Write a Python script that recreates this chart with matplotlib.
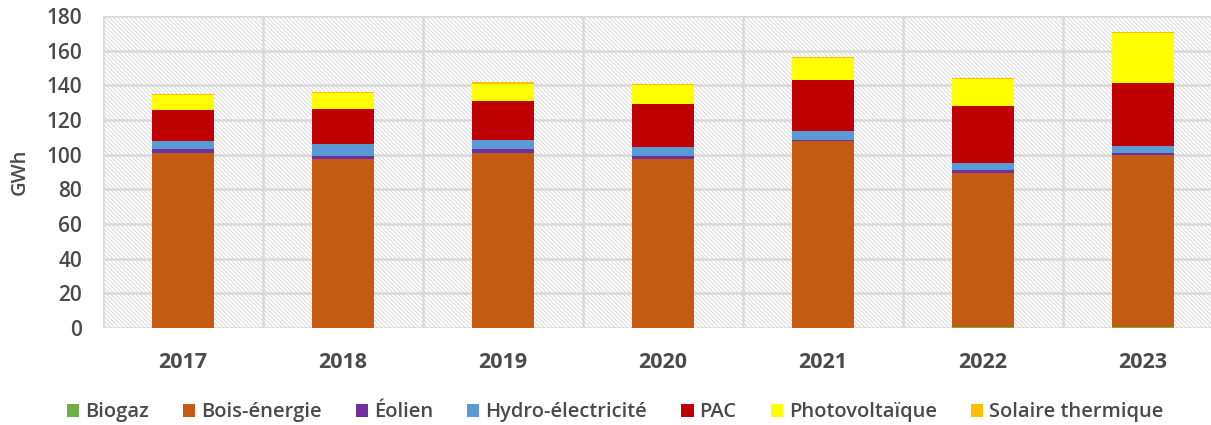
import matplotlib
matplotlib.use("Agg")
import matplotlib.pyplot as plt
import numpy as np
from matplotlib.patches import Rectangle, Patch

years = ["2017", "2018", "2019", "2020", "2021", "2022", "2023"]
series_names = ["Biogaz", "Bois-énergie", "Éolien", "Hydro-électricité", "PAC", "Photovoltaïque", "Solaire thermique"]
biogaz = [0.0, 0.0, 0.0, 0.0, 0.0, 0.6, 0.6]
bois = [101.0, 97.6, 101.2, 97.4, 107.8, 88.7, 99.1]
eolien = [2.2, 1.9, 2.0, 1.9, 0.9, 2.0, 1.3]
hydro = [4.8, 6.8, 5.5, 5.0, 5.2, 3.8, 4.1]
pac = [18.0, 20.3, 22.3, 25.2, 29.0, 32.9, 36.5]
pv = [8.7, 8.7, 9.6, 10.5, 12.9, 15.9, 28.4]
solaire = [0.5, 0.9, 1.2, 0.8, 0.6, 0.5, 0.6]
colors = ["#70ad47", "#c55a11", "#7030a0", "#5b9bd5", "#c00000", "#ffff00", "#ffc000"]

plt.rcParams['font.family'] = ['Open Sans', 'DejaVu Sans']
plt.rcParams['hatch.linewidth'] = 0.6
plt.rcParams['hatch.color'] = '#d2d2d2'
txt = '#4a4a4a'

fig = plt.figure(figsize=(12.11, 4.25), dpi=100)
ax = fig.add_axes([103/1211, 1-328/425, 1120/1211, (328-16)/425])

x = np.arange(len(years))
ax.set_xlim(-0.5, len(years) - 0.5)
ax.set_ylim(0, 180)

# hatched background
bg = Rectangle((0, 0), 1, 1, transform=ax.transAxes, facecolor='white',
               edgecolor='#d2d2d2', hatch='\\' * 8, linewidth=0, zorder=0)
ax.add_patch(bg)

# gridlines
for yv in range(0, 181, 20):
    ax.axhline(yv, color='#d9d9d9', lw=1.8, zorder=1)
for xv in np.arange(-0.5, len(years), 1.0):
    ax.axvline(xv, color='#d9d9d9', lw=1.8, zorder=1)

bottom = np.zeros(len(years))
all_series = [biogaz, bois, eolien, hydro, pac, pv, solaire]
for name, vals, c in zip(series_names, all_series, colors):
    vals = np.array(vals)
    ax.bar(x, vals, width=0.39, bottom=bottom, color=c, zorder=3, label=name)
    bottom += vals

for s in ax.spines.values():
    s.set_visible(False)

ax.set_yticks(range(0, 181, 20))
ax.set_xticks(x)
ax.set_xticklabels(years, fontweight='bold')
for lbl in ax.get_yticklabels():
    lbl.set_fontweight('semibold')
ax.tick_params(axis='x', length=0, pad=17, labelsize=15.5, labelcolor=txt)
ax.tick_params(axis='y', length=0, pad=15, labelsize=15, labelcolor=txt)
ax.set_ylabel("GWh", fontsize=14.5, color=txt, labelpad=12, fontweight='semibold')

handles = [Patch(facecolor=c, edgecolor='none') for c in colors]
leg = fig.legend(handles, series_names, loc='center', bbox_to_anchor=(0.508, 0.03),
                 ncol=7, frameon=False, handlelength=0.6, handleheight=0.6,
                 handletextpad=0.3, columnspacing=1.7, labelcolor=txt,
                 prop={'weight': 'semibold', 'size': 14.5})

fig.savefig("out.png", dpi=100)
